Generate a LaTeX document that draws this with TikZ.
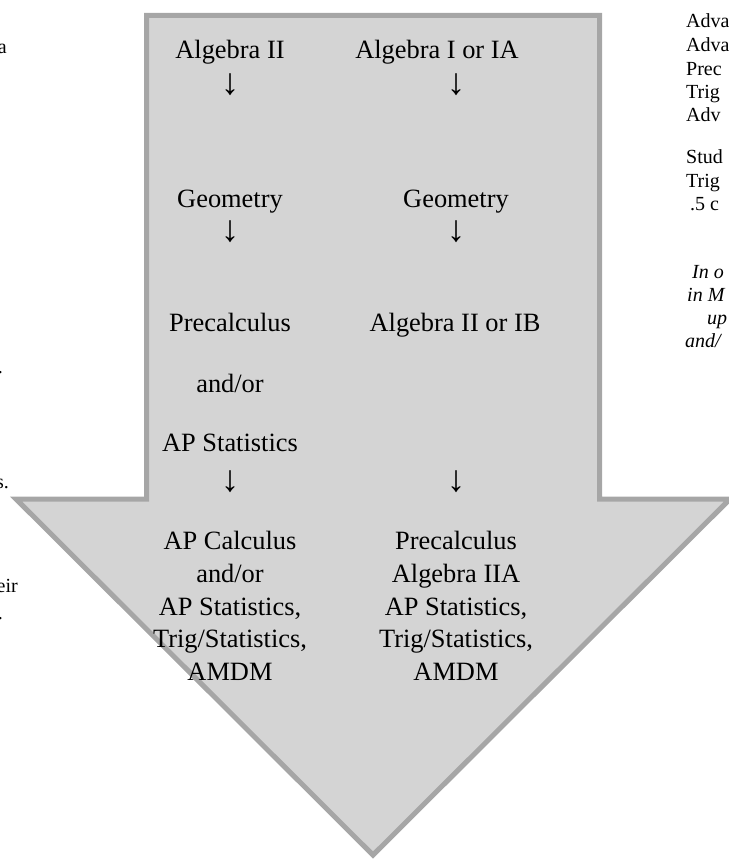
\documentclass[tikz,border=0pt]{standalone}
\usepackage{fontspec}
\setmainfont{Liberation Serif}

\begin{document}
\begin{tikzpicture}[x=1pt,y=-1pt,course/.style={inner sep=0pt,anchor=base,font=\fontsize{26.4}{33}\selectfont},down/.style={inner sep=0pt,font=\fontsize{37}{40}\selectfont},side/.style={inner sep=0pt,anchor=base west,font=\fontsize{20}{23}\selectfont},cut/.style={inner sep=0pt,anchor=base east,font=\fontsize{20}{23}\selectfont}]
\useasboundingbox (0,0) rectangle (728,859);
% big down arrow
\draw[draw=black!35,fill=black!17,line width=5pt] (146.5,15.5)--(599.5,15.5)--(599.5,499)--(730,499)--(373,855)--(16,499)--(146.5,499)--cycle;
% left column
\node[course] (alg) at (230,59) {Algebra II};
\node[down] (la1) at (230,84.5) {↓};
\node[course] (geoL) at (230,207) {Geometry};
\node[down] (la2) at (230,231.5) {↓};
\node[course] (preL) at (230,331) {Precalculus};
\node[course] (orL) at (230,392) {and/or};
\node[course] (statL) at (230,451) {AP Statistics};
\node[down] (la3) at (230,482) {↓};
\node[course] (calc) at (230,549) {AP Calculus};
\node[course] (orL2) at (230,582) {and/or};
\node[course] (statL2) at (230,615) {AP Statistics,};
\node[course] (trigL) at (230,647) {Trig/Statistics,};
\node[course] (amdmL) at (230,680) {AMDM};
% right column
\node[course] (algIA) at (437,59) {Algebra I or IA};
\node[down] (ra1) at (456,84.5) {↓};
\node[course] (geoR) at (456,207) {Geometry};
\node[down] (ra2) at (456,231.5) {↓};
\node[course] (algIB) at (455,331) {Algebra II or IB};
\node[down] (ra3) at (456,482) {↓};
\node[course] (preR) at (456,549) {Precalculus};
\node[course] (algIIA) at (456,582) {Algebra IIA};
\node[course] (statR) at (456,615) {AP Statistics,};
\node[course] (trigR) at (456,647) {Trig/Statistics,};
\node[course] (amdmR) at (456,680) {AMDM};
% cut-off text at the right edge
\node[side] (r1) at (686,28) {Adva};
\node[side] (r2) at (686,52) {Adva};
\node[side] (r3) at (686,75) {Prec};
\node[side] (r4) at (686,98) {Trig};
\node[side] (r5) at (686,121) {Adv};
\node[side] (r6) at (686,163) {Stud};
\node[side] (r7) at (686,187) {Trig};
\node[side] (r8) at (690,210) {.5 c};
\node[side,font=\fontsize{20}{23}\itshape] (r9) at (692,278) {In o};
\node[side,font=\fontsize{20}{23}\itshape] (r10) at (687,301) {in M};
\node[side,font=\fontsize{20}{23}\itshape] (r11) at (707,324) {up};
\node[side,font=\fontsize{20}{23}\itshape] (r12) at (685,347) {and/};
% cut-off text at the left edge
\node[cut] (l1) at (7,53) {a};
\node[cut] (l2) at (3,373) {.};
\node[cut] (l3) at (9,488) {s.};
\node[cut] (l4) at (18,592) {eir};
\node[cut] (l5) at (3,619) {.};
\end{tikzpicture}
\end{document}
